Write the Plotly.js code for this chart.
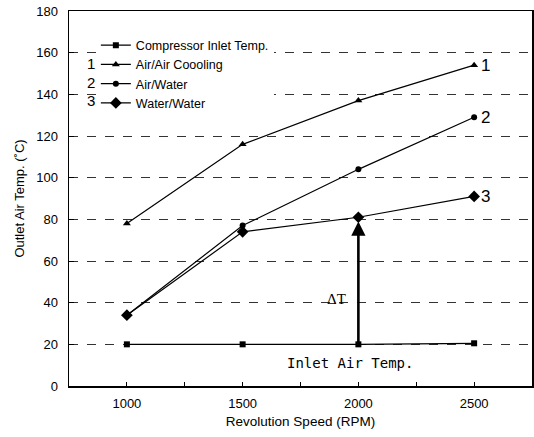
<!DOCTYPE html>
<html><head><meta charset="utf-8">
<script src="https://cdn.plot.ly/plotly-3.0.1.min.js"></script>
<style>body{margin:0;background:#fff}#c{width:534px;height:437px}</style>
</head><body><div id="c"></div>
<script>
const rpm = [1000, 1500, 2000, 2500];
const compressorInlet = [20, 20, 20, 20.5];
const airAir = [78, 116, 137, 154];
const airWater = [34, 77, 104, 129];
const waterWater = [34, 74, 81, 91];
const seriesNames = ['Compressor Inlet Temp.', 'Air/Air Coooling', 'Air/Water', 'Water/Water'];
const endLabels = ['1', '2', '3'];
const deltaT = {x: 2000, from: 20, to: 79};

const font = 'Arial, "Liberation Sans", sans-serif';
function tr(y, name, symbol, size) {
  return {x: rpm, y: y, name: name, type: 'scatter', mode: 'lines+markers',
    line: {color: '#000', width: 1.2}, marker: {symbol: symbol, size: size, color: '#000'}};
}
const data = [
  tr(compressorInlet, seriesNames[0], 'square', 6),
  tr(airAir, seriesNames[1], 'triangle-up', 7),
  tr(airWater, seriesNames[2], 'circle', 6),
  tr(waterWater, seriesNames[3], 'diamond', 9)
];
const ends = [airAir, airWater, waterWater];
const annotations = ends.map((s, i) => ({x: rpm[3], y: s[3], xref: 'x', yref: 'y', text: endLabels[i],
  showarrow: false, xanchor: 'left', xshift: 5, font: {family: font, size: 17, color: '#000'}}));
endLabels.forEach((t, i) => annotations.push({xref: 'paper', yref: 'paper', x: 0.047, y: 0.889 - i * 0.0505,
  text: t, showarrow: false, xanchor: 'center', font: {family: font, size: 15, color: '#000'}}));
annotations.push({x: deltaT.x, y: deltaT.to, ax: deltaT.x, ay: deltaT.from, xref: 'x', yref: 'y', axref: 'x', ayref: 'y',
  text: '', showarrow: true, arrowhead: 2, arrowsize: 1.1, arrowwidth: 2.6, arrowcolor: '#000'});
annotations.push({x: deltaT.x, y: 42, xref: 'x', yref: 'y', text: 'ΔT', showarrow: false, xanchor: 'right', xshift: -10,
  font: {family: '"Liberation Serif", serif', size: 15, color: '#000'}});
annotations.push({x: deltaT.x, y: 11, xref: 'x', yref: 'y', text: 'Inlet Air Temp.', showarrow: false, xanchor: 'center',
  xshift: -8, font: {family: '"DejaVu Sans Mono", monospace', size: 14, color: '#000'}});

const layout = {
  width: 534, height: 437, margin: {l: 69, r: 2, t: 11, b: 51},
  paper_bgcolor: '#fff', plot_bgcolor: '#fff', font: {family: font, size: 13, color: '#000'},
  xaxis: {range: [750, 2750], tick0: 1000, dtick: 500, ticks: 'inside', ticklen: 4, tickcolor: '#000',
    minor: {dtick: 250, ticks: 'inside', ticklen: 4, tickcolor: '#000', showgrid: false},
    showgrid: false, zeroline: false, showline: true, linecolor: '#000', linewidth: 1.5, mirror: true,
    ticklabelstandoff: 5, tickfont: {size: 13},
    title: {text: 'Revolution Speed (RPM)', font: {size: 13.5}, standoff: 6}},
  yaxis: {range: [0, 180], dtick: 20, ticks: 'inside', ticklen: 5, tickcolor: '#000',
    showgrid: true, gridcolor: '#000', griddash: 'dash', gridwidth: 0.8, zeroline: false,
    showline: true, linecolor: '#000', linewidth: 1.5, mirror: true, ticklabelstandoff: 7, tickfont: {size: 13},
    title: {text: 'Outlet Air Temp. (˚C)', font: {size: 13}, standoff: 8}},
  showlegend: true,
  legend: {x: 0.058, y: 0.948, xanchor: 'left', yanchor: 'top', bgcolor: '#fff', borderwidth: 0,
    font: {size: 12.5, color: '#000'}, itemwidth: 30, tracegroupgap: 0},
  annotations: annotations
};
Plotly.newPlot('c', data, layout, {staticPlot: true});
</script></body></html>
